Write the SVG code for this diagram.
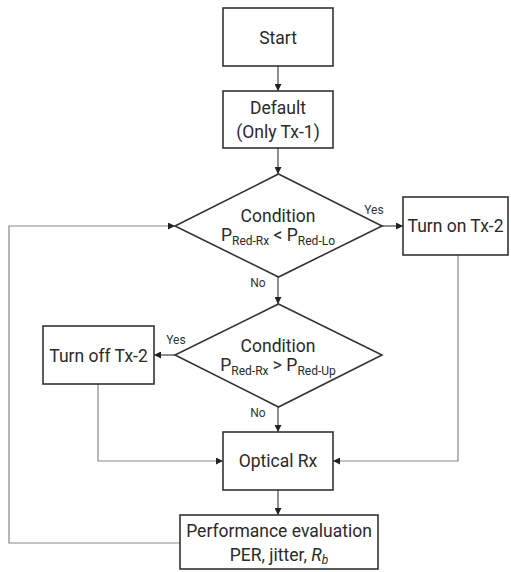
<svg xmlns="http://www.w3.org/2000/svg" width="511" height="572" viewBox="0 0 511 572">
<style>
.box{fill:#fff;stroke:#333;stroke-width:1.6}
.t{font-family:Roboto,"Liberation Sans",sans-serif;font-size:17.5px;fill:#2a2a2a;text-anchor:middle}
.s{font-size:12px}
.lbl{font-family:Roboto,"Liberation Sans",sans-serif;font-size:12px;fill:#333;text-anchor:middle}
.c{fill:none;stroke:#444;stroke-width:1.2}
.g{fill:none;stroke:#888;stroke-width:1.2}
</style>
<defs>
<marker id="ah" viewBox="0 0 10 10" refX="10" refY="5" markerWidth="7" markerHeight="7" markerUnits="userSpaceOnUse" orient="auto">
<path d="M0,0 L10,5 L0,10 z" fill="#222"/>
</marker>
</defs>
<rect width="511" height="572" fill="#fff"/>
<g id="connectors">
<line class="c" x1="278" y1="66" x2="278" y2="91" marker-end="url(#ah)"/>
<line class="c" x1="278" y1="148" x2="278" y2="174" marker-end="url(#ah)"/>
<line class="c" x1="382" y1="226" x2="403" y2="226" marker-end="url(#ah)"/>
<line class="c" x1="278" y1="277" x2="278" y2="304" marker-end="url(#ah)"/>
<line class="c" x1="175" y1="355" x2="154" y2="355" marker-end="url(#ah)"/>
<line class="c" x1="278" y1="407" x2="278" y2="432" marker-end="url(#ah)"/>
<polyline class="g" points="98,384 98,461 223,461" marker-end="url(#ah)"/>
<polyline class="g" points="458,255 458,461 333,461" marker-end="url(#ah)"/>
<line class="c" x1="278" y1="490" x2="278" y2="515" marker-end="url(#ah)"/>
<polyline class="g" points="180,543 9,543 9,226 175,226" marker-end="url(#ah)"/>
<text class="lbl" x="374" y="214">Yes</text>
<text class="lbl" x="258" y="287">No</text>
<text class="lbl" x="176" y="344">Yes</text>
<text class="lbl" x="258" y="417">No</text>
</g>
<g id="start">
<rect class="box" x="223" y="8" width="110" height="58"/>
<text class="t" x="278" y="44">Start</text>
</g>
<g id="default">
<rect class="box" x="223" y="91" width="110" height="57"/>
<text class="t" x="278" y="114">Default</text>
<text class="t" x="278" y="138">(Only Tx-1)</text>
</g>
<g id="cond1">
<polygon class="box" points="278.5,174 382,226 278.5,277 175,226"/>
<text class="t" x="278" y="222">Condition</text>
<text class="t" x="278" y="241">P<tspan class="s" dy="4">Red-Rx</tspan><tspan dy="-4"> &lt; P</tspan><tspan class="s" dy="4">Red-Lo</tspan></text>
</g>
<g id="turnon">
<rect class="box" x="403" y="197" width="105" height="58"/>
<text class="t" x="455.5" y="232">Turn on Tx-2</text>
</g>
<g id="cond2">
<polygon class="box" points="278.5,304 382,355 278.5,407 175,355"/>
<text class="t" x="278" y="352">Condition</text>
<text class="t" x="278" y="371">P<tspan class="s" dy="4">Red-Rx</tspan><tspan dy="-4"> &gt; P</tspan><tspan class="s" dy="4">Red-Up</tspan></text>
</g>
<g id="turnoff">
<rect class="box" x="43" y="326" width="111" height="58"/>
<text class="t" x="98.5" y="362">Turn off Tx-2</text>
</g>
<g id="optical">
<rect class="box" x="223" y="432" width="110" height="58"/>
<text class="t" x="278" y="467">Optical Rx</text>
</g>
<g id="perf">
<rect class="box" x="180" y="515" width="198" height="54"/>
<text class="t" x="279" y="537">Performance evaluation</text>
<text class="t" x="279" y="561">PER, jitter, <tspan font-style="italic">R</tspan><tspan class="s" font-style="italic" dy="3">b</tspan></text>
</g>
</svg>
